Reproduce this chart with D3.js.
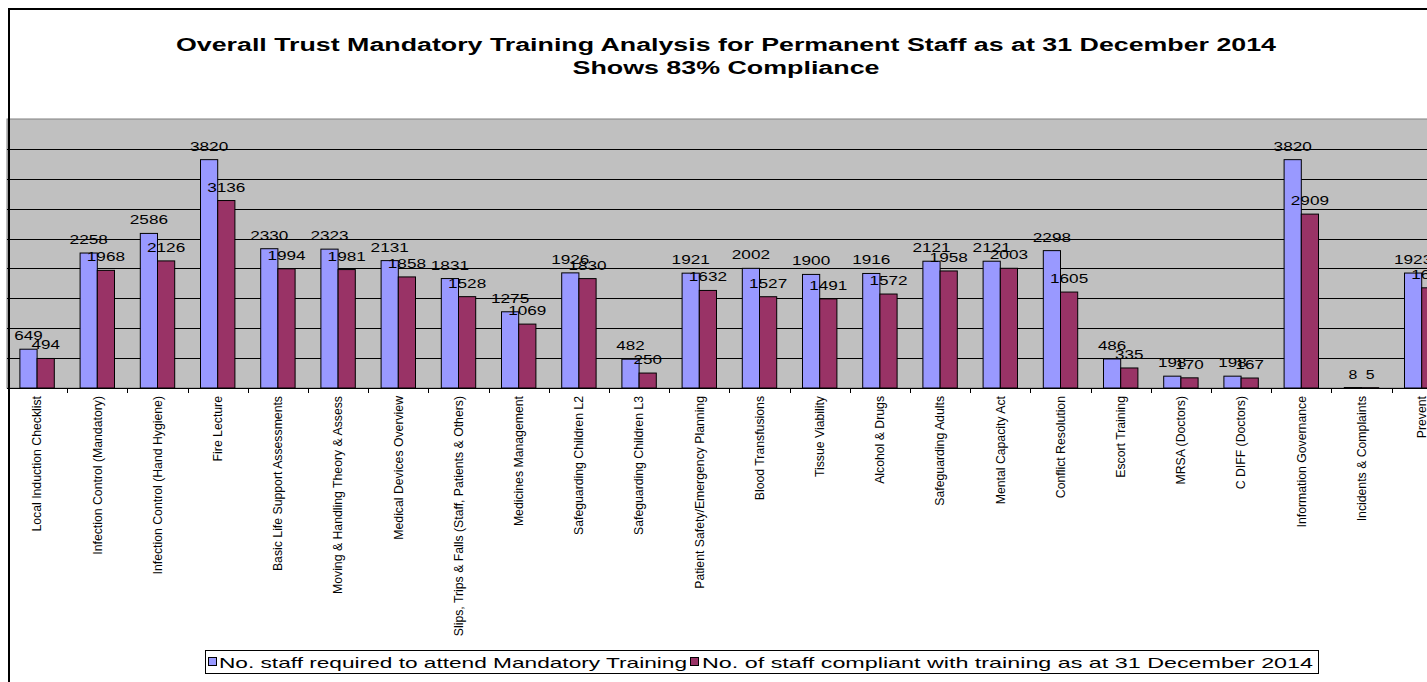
<!DOCTYPE html>
<html>
<head>
<meta charset="utf-8">
<script src="https://cdn.jsdelivr.net/npm/d3@7"></script>
<style>
  body { margin: 0; background: #fff; }
  text { font-family: Arial, "Liberation Sans", sans-serif; fill: #000; }
</style>
</head>
<body>
<div id="chart"></div>
<script>
const categories = [
  "Local Induction Checklist",
  "Infection Control (Mandatory)",
  "Infection Control (Hand Hygiene)",
  "Fire Lecture",
  "Basic Life Support Assessments",
  "Moving & Handling Theory & Assess",
  "Medical Devices Overview",
  "Slips, Trips & Falls (Staff, Patients & Others)",
  "Medicines Management",
  "Safeguarding Children L2",
  "Safeguarding Children L3",
  "Patient Safety/Emergency Planning",
  "Blood Transfusions",
  "Tissue Viability",
  "Alcohol & Drugs",
  "Safeguarding Adults",
  "Mental Capacity Act",
  "Conflict Resolution",
  "Escort Training",
  "MRSA (Doctors)",
  "C DIFF (Doctors)",
  "Information Governance",
  "Incidents & Complaints",
  "Prevent"
];
const required = [649, 2258, 2586, 3820, 2330, 2323, 2131, 1831, 1275, 1926, 482, 1921,
  2002, 1900, 1916, 2121, 2121, 2298, 486, 198, 198, 3820, 8, 1923];
const compliant = [494, 1968, 2126, 3136, 1994, 1981, 1858, 1528, 1069, 1830, 250, 1632,
  1527, 1491, 1572, 1958, 2003, 1605, 335, 170, 167, 2909, 5, 1676];
const seriesNames = [
  "No. staff required to attend Mandatory Training",
  "No. of staff compliant with  training as at 31 December 2014"
];
const seriesColors = ["#9999FF", "#993366"];
const gridValues = [500, 1000, 1500, 2000, 2500, 3000, 3500, 4000];
const titleLines = [
  "Overall Trust Mandatory Training Analysis for Permanent Staff as at 31 December 2014",
  "Shows 83% Compliance"
];

const fullWidth = 1427, fullHeight = 682;
const plot = { left: 7, top: 119, bottom: 388 };
const catWidth = 60.2;

const svg = d3.select("#chart")
  .append("svg")
  .attr("width", fullWidth)
  .attr("height", fullHeight);

// title (wide bold letters, stretched to the original width)
svg.append("text")
  .attr("x", 726).attr("y", 51)
  .attr("text-anchor", "middle")
  .style("font-size", "18px").style("font-weight", "bold")
  .attr("textLength", 1100).attr("lengthAdjust", "spacingAndGlyphs")
  .text(titleLines[0]);
svg.append("text")
  .attr("x", 726).attr("y", 74)
  .attr("text-anchor", "middle")
  .style("font-size", "18px").style("font-weight", "bold")
  .attr("textLength", 307).attr("lengthAdjust", "spacingAndGlyphs")
  .text(titleLines[1]);

const x0 = d3.scaleBand()
  .domain(categories)
  .range([plot.left, plot.left + catWidth * categories.length])
  .padding(0);

const gap = x0.bandwidth() * 1.5 / 3.5;
const x1 = d3.scaleBand()
  .domain([0, 1])
  .range([gap / 2, x0.bandwidth() - gap / 2]);

const y = d3.scaleLinear().domain([0, 4500]).range([plot.bottom, plot.top]);

// plot area
svg.append("rect")
  .attr("x", plot.left)
  .attr("y", plot.top)
  .attr("width", fullWidth - plot.left + 40)
  .attr("height", plot.bottom - plot.top)
  .attr("fill", "#C0C0C0")
  .attr("stroke", "#808080");

// gridlines
svg.append("g")
  .selectAll("line")
  .data(gridValues)
  .enter()
  .append("line")
  .attr("x1", plot.left).attr("x2", fullWidth)
  .attr("y1", d => Math.round(y(d)) + 0.5)
  .attr("y2", d => Math.round(y(d)) + 0.5)
  .attr("stroke", "#000");

// bars
const groups = svg.append("g")
  .selectAll("g")
  .data(categories)
  .enter()
  .append("g")
  .attr("transform", d => `translate(${x0(d)},0)`);

const vals = (d, i) => [required[i], compliant[i]];

groups.selectAll("rect")
  .data((d, i) => vals(d, i))
  .enter()
  .append("rect")
  .attr("x", (d, j) => x1(j))
  .attr("y", d => y(d))
  .attr("width", x1.bandwidth())
  .attr("height", d => plot.bottom - y(d))
  .attr("fill", (d, j) => seriesColors[j])
  .attr("stroke", "#000")
  .attr("stroke-width", 1);

groups.selectAll("text.val")
  .data((d, i) => vals(d, i))
  .enter()
  .append("text")
  .attr("class", "val")
  .attr("x", (d, j) => x1(j) + x1.bandwidth() / 2)
  .attr("y", d => y(d) - 9)
  .attr("text-anchor", "middle")
  .style("font-size", "12.5px")
  .attr("textLength", d => String(d).length * 9.8 - 1)
  .attr("lengthAdjust", "spacingAndGlyphs")
  .text(d => d);

// x axis
const xAxis = svg.append("g")
  .attr("transform", `translate(0,${plot.bottom})`);
xAxis.append("line")
  .attr("x1", plot.left).attr("x2", fullWidth)
  .attr("y1", 0.5).attr("y2", 0.5)
  .attr("stroke", "#000");
xAxis.selectAll("line.tick")
  .data(categories.slice(1))
  .enter()
  .append("line")
  .attr("class", "tick")
  .attr("x1", d => Math.round(x0(d)) + 0.5)
  .attr("x2", d => Math.round(x0(d)) + 0.5)
  .attr("y1", 0).attr("y2", 5)
  .attr("stroke", "#000");

const catLabels = xAxis.selectAll("text")
  .data(categories)
  .enter()
  .append("text")
  .attr("transform", d => `translate(${x0(d) + x0.bandwidth() / 2},8) rotate(-90)`)
  .attr("text-anchor", "end")
  .attr("dy", "0.35em")
  .style("font-size", "12.5px")
  .text(d => d);

// narrow the category labels like the original condensed font
const refLabel = catLabels.filter(d => d === "Moving & Handling Theory & Assess").node();
const squeeze = 198 / refLabel.getComputedTextLength();
catLabels.each(function () {
  const len = this.getComputedTextLength();
  d3.select(this)
    .attr("textLength", len * squeeze)
    .attr("lengthAdjust", "spacingAndGlyphs");
});

// legend
const legend = svg.append("g");
legend.append("rect")
  .attr("x", 205.5).attr("y", 650.5)
  .attr("width", 1113).attr("height", 23)
  .attr("fill", "#fff")
  .attr("stroke", "#000");

const legendItems = [
  { x: 208, tx: 219, len: 468 },
  { x: 690, tx: 702, len: 611 }
];
legendItems.forEach((it, i) => {
  legend.append("rect")
    .attr("x", it.x + 0.5).attr("y", 657.5)
    .attr("width", 8).attr("height", 8)
    .attr("fill", seriesColors[i])
    .attr("stroke", "#000");
  legend.append("text")
    .attr("x", it.tx).attr("y", 667.5)
    .style("font-size", "15px")
    .attr("textLength", it.len)
    .attr("lengthAdjust", "spacingAndGlyphs")
    .text(seriesNames[i]);
});

// chart border
svg.append("path")
  .attr("d", `M9,${fullHeight + 5} V9 H${fullWidth + 5}`)
  .attr("fill", "none")
  .attr("stroke", "#000")
  .attr("stroke-width", 2);
</script>
</body>
</html>
